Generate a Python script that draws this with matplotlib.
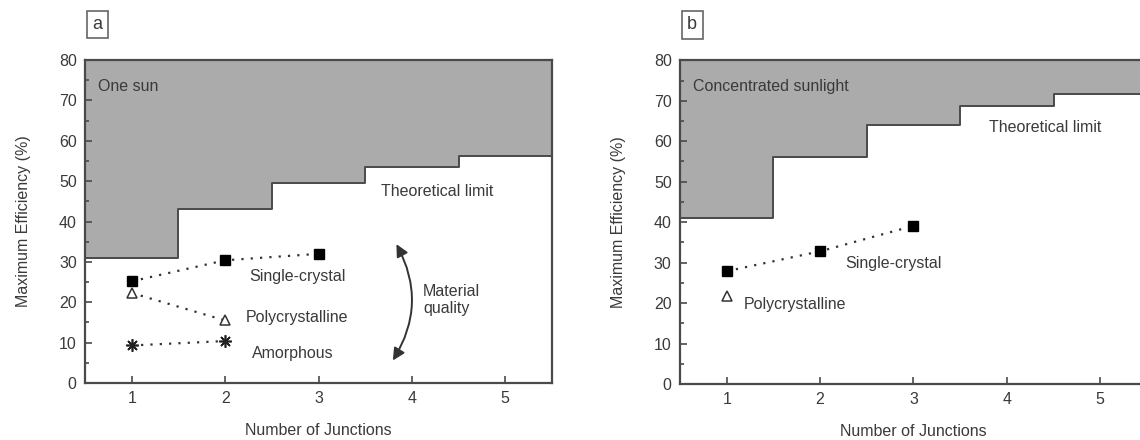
import matplotlib
matplotlib.use('Agg')
import matplotlib.pyplot as plt
from matplotlib.patches import FancyArrowPatch
from matplotlib.ticker import MultipleLocator

plt.rcParams['font.family'] = ['Liberation Sans', 'DejaVu Sans']

# theoretical limit per number of junctions
junctions = [1, 2, 3, 4, 5]
limit_one_sun = [31, 43, 49.5, 53.4, 56.2]
limit_conc = [41, 56, 64, 68.8, 71.7]

# one sun cells
one_single_x = [1, 2, 3]
one_single_y = [25.2, 30.4, 32.0]
one_poly_x = [1, 2]
one_poly_y = [22.3, 15.5]
one_amor_x = [1, 2]
one_amor_y = [9.3, 10.4]

# concentrated sunlight cells
conc_single_x = [1, 2, 3]
conc_single_y = [27.9, 32.8, 39.1]
conc_poly_x = [1]
conc_poly_y = [21.8]

TXT = '#3a3a3a'
EDGE = '#4a4a4a'
FILL = '#ababab'

fig = plt.figure(figsize=(11.4, 4.4), dpi=100)
ax_a = fig.add_axes([0.0746, 0.1295, 0.4096, 0.734])
ax_b = fig.add_axes([0.5965, 0.127, 0.4096, 0.736])


def limit_panel(ax, levels, letter):
    edges = [j - 0.5 for j in junctions] + [junctions[-1] + 0.5]
    lev = levels + [levels[-1]]
    ax.fill_between(edges, lev, 80, step='post', color=FILL, lw=0)
    ax.step(edges, lev, where='post', color=EDGE, lw=1.4)
    ax.set_xlim(0.5, 5.5)
    ax.set_ylim(0, 80)
    ax.set_xticks(junctions)
    ax.set_yticks(range(0, 81, 10))
    ax.yaxis.set_minor_locator(MultipleLocator(5))
    ax.tick_params(direction='in', labelsize=11.5, colors=EDGE, labelcolor=TXT,
                   length=5, width=1.2, pad=6)
    ax.tick_params(which='minor', direction='in', length=3, width=1.2, colors=EDGE)
    for s in ax.spines.values():
        s.set_color(EDGE)
        s.set_linewidth(1.6)
    ax.set_xlabel('Number of Junctions', fontsize=11.5, color=TXT, labelpad=12)
    ax.set_ylabel('Maximum Efficiency (%)', fontsize=11.5, color=TXT, labelpad=20)
    ax.text(0.026, 1.11, letter, transform=ax.transAxes, fontsize=13, color=TXT,
            ha='center', va='center',
            bbox=dict(boxstyle='square,pad=0.3', fc='white', ec='#666', lw=1.2))


dot = dict(color='#333333', lw=1.6, ls=(0, (1, 3.2)))

# panel a
limit_panel(ax_a, limit_one_sun, 'a')
ax_a.plot(one_single_x, one_single_y, marker='s', ms=6.5, mfc='black', mec='black', **dot)
ax_a.plot(one_poly_x, one_poly_y, marker='^', ms=7.5, mfc='white', mec='#333', mew=1.1, **dot)
ax_a.plot(one_amor_x, one_amor_y, marker=(8, 2, 0), ms=9, mec='#222', mew=1.2, **dot)
kw = dict(fontsize=11.5, color=TXT)
ax_a.text(0.64, 73.4, 'One sun', va='center', **kw)
ax_a.text(3.67, 47.4, 'Theoretical limit', va='center', **kw)
ax_a.text(2.26, 26.4, 'Single-crystal', va='center', **kw)
ax_a.text(2.22, 16.3, 'Polycrystalline', va='center', **kw)
ax_a.text(2.29, 7.4, 'Amorphous', va='center', **kw)
ax_a.text(4.12, 20.5, 'Material\nquality', va='center', linespacing=1.2, **kw)
ax_a.add_patch(FancyArrowPatch((3.82, 35), (3.78, 5.0), connectionstyle='arc3,rad=-0.3',
                               arrowstyle='<|-|>,head_length=0.6,head_width=0.3',
                               mutation_scale=12, color='#333', lw=1.4))

# panel b
limit_panel(ax_b, limit_conc, 'b')
ax_b.plot(conc_single_x, conc_single_y, marker='s', ms=6.5, mfc='black', mec='black', **dot)
ax_b.plot(conc_poly_x, conc_poly_y, marker='^', ms=7.5, mfc='white', mec='#333', mew=1.1,
          ls='none')
ax_b.text(0.64, 73.5, 'Concentrated sunlight', va='center', **kw)
ax_b.text(3.81, 63.3, 'Theoretical limit', va='center', **kw)
ax_b.text(2.27, 29.7, 'Single-crystal', va='center', **kw)
ax_b.text(1.18, 19.7, 'Polycrystalline', va='center', **kw)

fig.savefig('out.png', dpi=100)
